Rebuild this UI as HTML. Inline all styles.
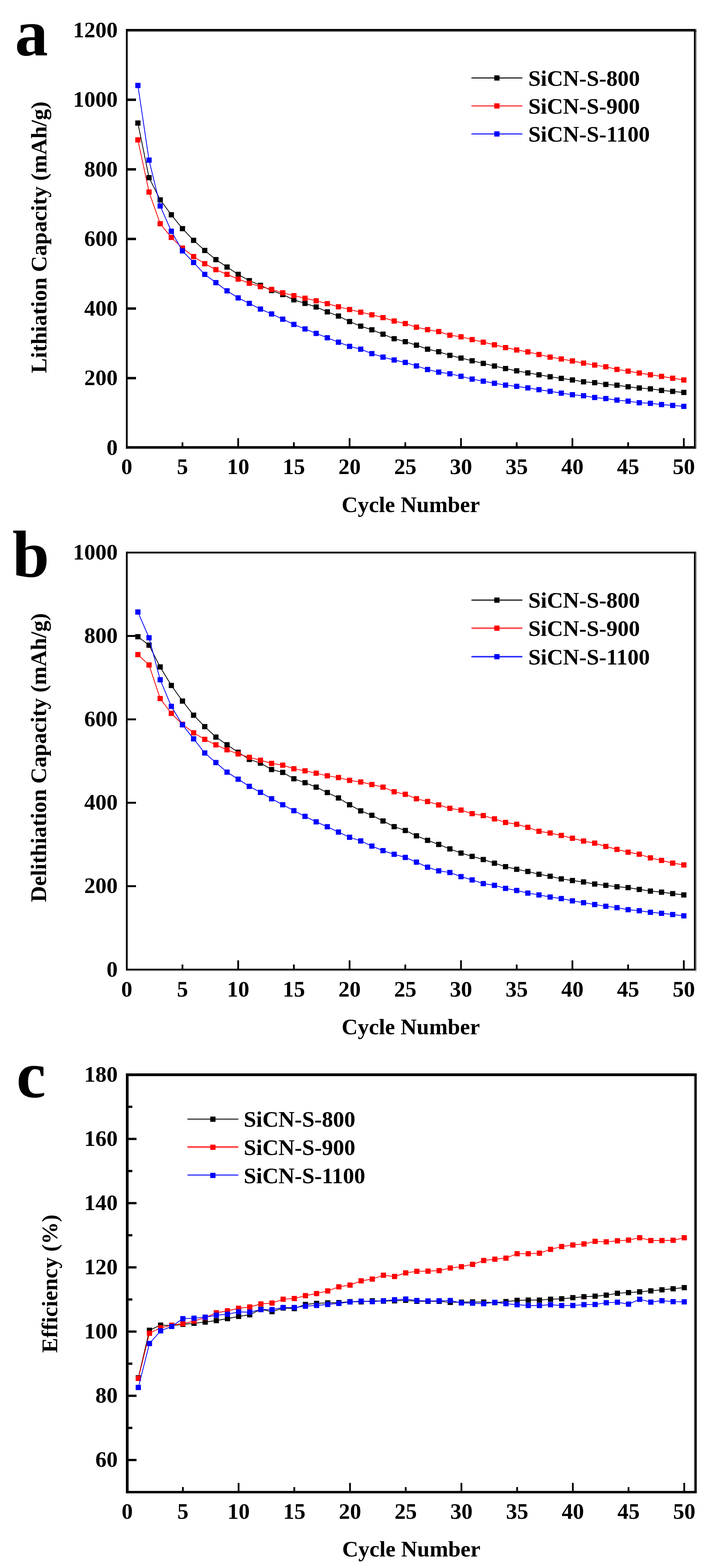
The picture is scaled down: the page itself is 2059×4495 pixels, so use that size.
<!DOCTYPE html>
<html><head><meta charset="utf-8"><title>SiCN-S cycling performance</title>
<style>
html,body{margin:0;padding:0;background:#fff;}
body{width:2059px;height:4495px;overflow:hidden;}
svg{display:block;}
svg text{font-family:'Liberation Serif', 'Times New Roman', serif;font-weight:bold;font-size:64px;fill:#000;}
</style></head><body>
<svg width="2059" height="4495" viewBox="0 0 2059 4495">
<rect x="0" y="0" width="2059" height="4495" fill="#fff"/>
<rect x="366" y="88" width="3" height="1191" fill="#e4e4e4"/>
<rect x="1994.6" y="83" width="3.4" height="1203.3" fill="#999999"/>
<rect x="361" y="88" width="1637" height="3" fill="#505050"/>
<rect x="361" y="83" width="1633.6" height="5" fill="#000"/>
<rect x="361" y="1279" width="1633.6" height="7.3" fill="#000"/>
<rect x="361" y="83" width="5" height="1203.3" fill="#000"/>
<rect x="1990" y="83" width="4.6" height="1203.3" fill="#000"/>
<text x="363.5" y="1359" text-anchor="middle">0</text>
<rect x="520.75" y="1268" width="5" height="12" fill="#000"/>
<text x="523.25" y="1359" text-anchor="middle">5</text>
<rect x="680.5" y="1256" width="5" height="24" fill="#000"/>
<text x="683" y="1359" text-anchor="middle">10</text>
<rect x="840.25" y="1268" width="5" height="12" fill="#000"/>
<text x="842.75" y="1359" text-anchor="middle">15</text>
<rect x="1000" y="1256" width="5" height="24" fill="#000"/>
<text x="1002.5" y="1359" text-anchor="middle">20</text>
<rect x="1159.75" y="1268" width="5" height="12" fill="#000"/>
<text x="1162.25" y="1359" text-anchor="middle">25</text>
<rect x="1319.5" y="1256" width="5" height="24" fill="#000"/>
<text x="1322" y="1359" text-anchor="middle">30</text>
<rect x="1479.25" y="1268" width="5" height="12" fill="#000"/>
<text x="1481.75" y="1359" text-anchor="middle">35</text>
<rect x="1639" y="1256" width="5" height="24" fill="#000"/>
<text x="1641.5" y="1359" text-anchor="middle">40</text>
<rect x="1798.75" y="1268" width="5" height="12" fill="#000"/>
<text x="1801.25" y="1359" text-anchor="middle">45</text>
<rect x="1958.5" y="1256" width="5" height="24" fill="#000"/>
<text x="1961" y="1359" text-anchor="middle">50</text>
<text x="337.5" y="1303.5" text-anchor="end">0</text>
<rect x="365" y="1080.5" width="25" height="7" fill="#000"/>
<text x="337.5" y="1104" text-anchor="end">200</text>
<rect x="365" y="881" width="25" height="7" fill="#000"/>
<text x="337.5" y="904.5" text-anchor="end">400</text>
<rect x="365" y="681.5" width="25" height="7" fill="#000"/>
<text x="337.5" y="705" text-anchor="end">600</text>
<rect x="365" y="482" width="25" height="7" fill="#000"/>
<text x="337.5" y="505.5" text-anchor="end">800</text>
<rect x="365" y="282.5" width="25" height="7" fill="#000"/>
<text x="337.5" y="306" text-anchor="end">1000</text>
<text x="337.5" y="106.5" text-anchor="end">1200</text>
<text x="1178" y="1467.7" text-anchor="middle">Cycle Number</text>
<text transform="translate(132.6 1069.5) rotate(-90)" x="0" y="0">Lithiation Capacity (mAh/g)</text>
<text x="42.7" y="158.9" style="font-size:190px">a</text>
<polyline points="395.45,352.8 427.4,509.2 459.35,572.9 491.3,615.7 523.25,655.6 555.2,689 587.15,718 619.1,744.3 651.05,765.4 683,786.6 714.95,804.5 746.9,818 778.85,832.7 810.8,844.5 842.75,859.4 874.7,869.8 906.65,880.1 938.6,894.1 970.55,906 1002.5,921.7 1034.45,935.1 1066.4,945.4 1098.35,957.9 1130.3,970.9 1162.25,979.5 1194.2,989.6 1226.15,1000.9 1258.1,1008.3 1290.05,1018.7 1322,1026.4 1353.95,1034.3 1385.9,1041.7 1417.85,1049.2 1449.8,1056.6 1481.75,1063.1 1513.7,1069 1545.65,1074.4 1577.6,1080 1609.55,1084.8 1641.5,1089.2 1673.45,1094.5 1705.4,1096.9 1737.35,1102 1769.3,1104.3 1801.25,1108.8 1833.2,1112.3 1865.15,1114.7 1897.1,1119.2 1929.05,1122.1 1961,1125.1" fill="none" stroke="#000000" stroke-width="2.2" stroke-linejoin="miter"/>
<path d="M387.95 345.3h15v15h-15zM419.9 501.7h15v15h-15zM451.85 565.4h15v15h-15zM483.8 608.2h15v15h-15zM515.75 648.1h15v15h-15zM547.7 681.5h15v15h-15zM579.65 710.5h15v15h-15zM611.6 736.8h15v15h-15zM643.55 757.9h15v15h-15zM675.5 779.1h15v15h-15zM707.45 797h15v15h-15zM739.4 810.5h15v15h-15zM771.35 825.2h15v15h-15zM803.3 837h15v15h-15zM835.25 851.9h15v15h-15zM867.2 862.3h15v15h-15zM899.15 872.6h15v15h-15zM931.1 886.6h15v15h-15zM963.05 898.5h15v15h-15zM995 914.2h15v15h-15zM1026.95 927.6h15v15h-15zM1058.9 937.9h15v15h-15zM1090.85 950.4h15v15h-15zM1122.8 963.4h15v15h-15zM1154.75 972h15v15h-15zM1186.7 982.1h15v15h-15zM1218.65 993.4h15v15h-15zM1250.6 1000.8h15v15h-15zM1282.55 1011.2h15v15h-15zM1314.5 1018.9h15v15h-15zM1346.45 1026.8h15v15h-15zM1378.4 1034.2h15v15h-15zM1410.35 1041.7h15v15h-15zM1442.3 1049.1h15v15h-15zM1474.25 1055.6h15v15h-15zM1506.2 1061.5h15v15h-15zM1538.15 1066.9h15v15h-15zM1570.1 1072.5h15v15h-15zM1602.05 1077.3h15v15h-15zM1634 1081.7h15v15h-15zM1665.95 1087h15v15h-15zM1697.9 1089.4h15v15h-15zM1729.85 1094.5h15v15h-15zM1761.8 1096.8h15v15h-15zM1793.75 1101.3h15v15h-15zM1825.7 1104.8h15v15h-15zM1857.65 1107.2h15v15h-15zM1889.6 1111.7h15v15h-15zM1921.55 1114.6h15v15h-15zM1953.5 1117.6h15v15h-15z" fill="#000000"/>
<polyline points="395.45,401.1 427.4,550.6 459.35,641.2 491.3,680.5 523.25,711.2 555.2,735.6 587.15,755.9 619.1,773 651.05,786.6 683,800.1 714.95,811.9 746.9,821.7 778.85,829.7 810.8,839.5 842.75,847.5 874.7,854.9 906.65,862.3 938.6,870.4 970.55,879.5 1002.5,887.3 1034.45,895 1066.4,902.4 1098.35,910.4 1130.3,920.2 1162.25,927.6 1194.2,938 1226.15,945.1 1258.1,950.5 1290.05,960.9 1322,965.5 1353.95,973.5 1385.9,980.9 1417.85,988.4 1449.8,996.4 1481.75,1003.2 1513.7,1008.8 1545.65,1016.2 1577.6,1023.7 1609.55,1029 1641.5,1034.8 1673.45,1041.1 1705.4,1046.5 1737.35,1051.5 1769.3,1058.9 1801.25,1064 1833.2,1069.3 1865.15,1074.4 1897.1,1079.1 1929.05,1084.2 1961,1089.2" fill="none" stroke="#ff0000" stroke-width="2.2" stroke-linejoin="miter"/>
<path d="M387.95 393.6h15v15h-15zM419.9 543.1h15v15h-15zM451.85 633.7h15v15h-15zM483.8 673h15v15h-15zM515.75 703.7h15v15h-15zM547.7 728.1h15v15h-15zM579.65 748.4h15v15h-15zM611.6 765.5h15v15h-15zM643.55 779.1h15v15h-15zM675.5 792.6h15v15h-15zM707.45 804.4h15v15h-15zM739.4 814.2h15v15h-15zM771.35 822.2h15v15h-15zM803.3 832h15v15h-15zM835.25 840h15v15h-15zM867.2 847.4h15v15h-15zM899.15 854.8h15v15h-15zM931.1 862.9h15v15h-15zM963.05 872h15v15h-15zM995 879.8h15v15h-15zM1026.95 887.5h15v15h-15zM1058.9 894.9h15v15h-15zM1090.85 902.9h15v15h-15zM1122.8 912.7h15v15h-15zM1154.75 920.1h15v15h-15zM1186.7 930.5h15v15h-15zM1218.65 937.6h15v15h-15zM1250.6 943h15v15h-15zM1282.55 953.4h15v15h-15zM1314.5 958h15v15h-15zM1346.45 966h15v15h-15zM1378.4 973.4h15v15h-15zM1410.35 980.9h15v15h-15zM1442.3 988.9h15v15h-15zM1474.25 995.7h15v15h-15zM1506.2 1001.3h15v15h-15zM1538.15 1008.7h15v15h-15zM1570.1 1016.2h15v15h-15zM1602.05 1021.5h15v15h-15zM1634 1027.3h15v15h-15zM1665.95 1033.6h15v15h-15zM1697.9 1039h15v15h-15zM1729.85 1044h15v15h-15zM1761.8 1051.4h15v15h-15zM1793.75 1056.5h15v15h-15zM1825.7 1061.8h15v15h-15zM1857.65 1066.9h15v15h-15zM1889.6 1071.6h15v15h-15zM1921.55 1076.7h15v15h-15zM1953.5 1081.7h15v15h-15z" fill="#ff0000"/>
<polyline points="395.45,244.9 427.4,459 459.35,590.5 491.3,662.9 523.25,719.3 555.2,752.4 587.15,786.6 619.1,810.2 651.05,833.8 683,854 714.95,869.8 746.9,886.1 778.85,900 810.8,914.9 842.75,930 874.7,943 906.65,955.8 938.6,968.2 970.55,981 1002.5,992.9 1034.45,1000.9 1066.4,1013.7 1098.35,1023.8 1130.3,1032.1 1162.25,1038.9 1194.2,1049 1226.15,1059.3 1258.1,1066.8 1290.05,1071.5 1322,1078.7 1353.95,1086.8 1385.9,1092.8 1417.85,1098.7 1449.8,1104 1481.75,1107.6 1513.7,1112.1 1545.65,1117.1 1577.6,1121.8 1609.55,1126.9 1641.5,1131.5 1673.45,1134.6 1705.4,1139.6 1737.35,1142.6 1769.3,1147.1 1801.25,1150 1833.2,1154.5 1865.15,1156.2 1897.1,1159.8 1929.05,1162.2 1961,1164.9" fill="none" stroke="#0000ff" stroke-width="2.2" stroke-linejoin="miter"/>
<path d="M387.95 237.4h15v15h-15zM419.9 451.5h15v15h-15zM451.85 583h15v15h-15zM483.8 655.4h15v15h-15zM515.75 711.8h15v15h-15zM547.7 744.9h15v15h-15zM579.65 779.1h15v15h-15zM611.6 802.7h15v15h-15zM643.55 826.3h15v15h-15zM675.5 846.5h15v15h-15zM707.45 862.3h15v15h-15zM739.4 878.6h15v15h-15zM771.35 892.5h15v15h-15zM803.3 907.4h15v15h-15zM835.25 922.5h15v15h-15zM867.2 935.5h15v15h-15zM899.15 948.3h15v15h-15zM931.1 960.7h15v15h-15zM963.05 973.5h15v15h-15zM995 985.4h15v15h-15zM1026.95 993.4h15v15h-15zM1058.9 1006.2h15v15h-15zM1090.85 1016.3h15v15h-15zM1122.8 1024.6h15v15h-15zM1154.75 1031.4h15v15h-15zM1186.7 1041.5h15v15h-15zM1218.65 1051.8h15v15h-15zM1250.6 1059.3h15v15h-15zM1282.55 1064h15v15h-15zM1314.5 1071.2h15v15h-15zM1346.45 1079.3h15v15h-15zM1378.4 1085.3h15v15h-15zM1410.35 1091.2h15v15h-15zM1442.3 1096.5h15v15h-15zM1474.25 1100.1h15v15h-15zM1506.2 1104.6h15v15h-15zM1538.15 1109.6h15v15h-15zM1570.1 1114.3h15v15h-15zM1602.05 1119.4h15v15h-15zM1634 1124h15v15h-15zM1665.95 1127.1h15v15h-15zM1697.9 1132.1h15v15h-15zM1729.85 1135.1h15v15h-15zM1761.8 1139.6h15v15h-15zM1793.75 1142.5h15v15h-15zM1825.7 1147h15v15h-15zM1857.65 1148.7h15v15h-15zM1889.6 1152.3h15v15h-15zM1921.55 1154.7h15v15h-15zM1953.5 1157.4h15v15h-15z" fill="#0000ff"/>
<rect x="1352" y="222.1" width="146" height="2.8" fill="#000"/>
<rect x="1417.5" y="216" width="15" height="15" fill="#000000"/>
<text x="1515" y="245.5">SiCN-S-800</text>
<rect x="1352" y="302.4" width="146" height="2.6" fill="#ff0000"/>
<rect x="1417.5" y="296.2" width="15" height="15" fill="#ff0000"/>
<text x="1515" y="325.7">SiCN-S-900</text>
<rect x="1352" y="382.6" width="146" height="2.8" fill="#0000ff"/>
<rect x="1417.5" y="376.5" width="15" height="15" fill="#0000ff"/>
<text x="1515" y="406">SiCN-S-1100</text>
<rect x="366" y="1586.6" width="3" height="1190.4" fill="#e4e4e4"/>
<rect x="1994.6" y="1581.5" width="3.4" height="1203.3" fill="#999999"/>
<rect x="361" y="2781.9" width="1637" height="2.9" fill="#d0d0d0"/>
<rect x="361" y="1581.5" width="1633.6" height="5.1" fill="#000"/>
<rect x="361" y="2777" width="1633.6" height="4.9" fill="#000"/>
<rect x="361" y="1581.5" width="5" height="1200.4" fill="#000"/>
<rect x="1990" y="1581.5" width="4.6" height="1200.4" fill="#000"/>
<text x="363.5" y="2857" text-anchor="middle">0</text>
<rect x="520.75" y="2765" width="5" height="13" fill="#000"/>
<text x="523.25" y="2857" text-anchor="middle">5</text>
<rect x="680.5" y="2753" width="5" height="25" fill="#000"/>
<text x="683" y="2857" text-anchor="middle">10</text>
<rect x="840.25" y="2765" width="5" height="13" fill="#000"/>
<text x="842.75" y="2857" text-anchor="middle">15</text>
<rect x="1000" y="2753" width="5" height="25" fill="#000"/>
<text x="1002.5" y="2857" text-anchor="middle">20</text>
<rect x="1159.75" y="2765" width="5" height="13" fill="#000"/>
<text x="1162.25" y="2857" text-anchor="middle">25</text>
<rect x="1319.5" y="2753" width="5" height="25" fill="#000"/>
<text x="1322" y="2857" text-anchor="middle">30</text>
<rect x="1479.25" y="2765" width="5" height="13" fill="#000"/>
<text x="1481.75" y="2857" text-anchor="middle">35</text>
<rect x="1639" y="2753" width="5" height="25" fill="#000"/>
<text x="1641.5" y="2857" text-anchor="middle">40</text>
<rect x="1798.75" y="2765" width="5" height="13" fill="#000"/>
<text x="1801.25" y="2857" text-anchor="middle">45</text>
<rect x="1958.5" y="2753" width="5" height="25" fill="#000"/>
<text x="1961" y="2857" text-anchor="middle">50</text>
<text x="337.5" y="2799.5" text-anchor="end">0</text>
<rect x="365" y="2537.65" width="25" height="5.5" fill="#000"/>
<text x="337.5" y="2560.4" text-anchor="end">200</text>
<rect x="365" y="2298.55" width="25" height="5.5" fill="#000"/>
<text x="337.5" y="2321.3" text-anchor="end">400</text>
<rect x="365" y="2059.45" width="25" height="5.5" fill="#000"/>
<text x="337.5" y="2082.2" text-anchor="end">600</text>
<rect x="365" y="1820.35" width="25" height="5.5" fill="#000"/>
<text x="337.5" y="1843.1" text-anchor="end">800</text>
<text x="337.5" y="1604" text-anchor="end">1000</text>
<text x="1178" y="2964.7" text-anchor="middle">Cycle Number</text>
<text transform="translate(131.7 2586) rotate(-90)" x="0" y="0">Delithiation Capacity (mAh/g)</text>
<text x="35.5" y="1653.5" style="font-size:190px">b</text>
<polyline points="395.45,1825.2 427.4,1849.6 459.35,1912.1 491.3,1964.9 523.25,2009.7 555.2,2050.3 587.15,2083 619.1,2112.9 651.05,2135.1 683,2156.4 714.95,2177.1 746.9,2187.5 778.85,2205.9 810.8,2214.2 842.75,2232.6 874.7,2243.8 906.65,2256.6 938.6,2272 970.55,2287.4 1002.5,2307 1034.45,2324.4 1066.4,2337.2 1098.35,2353.5 1130.3,2369.8 1162.25,2380.8 1194.2,2395.9 1226.15,2409 1258.1,2420.8 1290.05,2433.6 1322,2445.5 1353.95,2454.9 1385.9,2464 1417.85,2474.4 1449.8,2484.5 1481.75,2491.9 1513.7,2498.2 1545.65,2506.2 1577.6,2512.1 1609.55,2519.5 1641.5,2524.3 1673.45,2528.3 1705.4,2534.3 1737.35,2538.1 1769.3,2542 1801.25,2544.6 1833.2,2549.7 1865.15,2554.4 1897.1,2557.4 1929.05,2561.8 1961,2565.4" fill="none" stroke="#000000" stroke-width="2.2" stroke-linejoin="miter"/>
<path d="M387.95 1817.7h15v15h-15zM419.9 1842.1h15v15h-15zM451.85 1904.6h15v15h-15zM483.8 1957.4h15v15h-15zM515.75 2002.2h15v15h-15zM547.7 2042.8h15v15h-15zM579.65 2075.5h15v15h-15zM611.6 2105.4h15v15h-15zM643.55 2127.6h15v15h-15zM675.5 2148.9h15v15h-15zM707.45 2169.6h15v15h-15zM739.4 2180h15v15h-15zM771.35 2198.4h15v15h-15zM803.3 2206.7h15v15h-15zM835.25 2225.1h15v15h-15zM867.2 2236.3h15v15h-15zM899.15 2249.1h15v15h-15zM931.1 2264.5h15v15h-15zM963.05 2279.9h15v15h-15zM995 2299.5h15v15h-15zM1026.95 2316.9h15v15h-15zM1058.9 2329.7h15v15h-15zM1090.85 2346h15v15h-15zM1122.8 2362.3h15v15h-15zM1154.75 2373.3h15v15h-15zM1186.7 2388.4h15v15h-15zM1218.65 2401.5h15v15h-15zM1250.6 2413.3h15v15h-15zM1282.55 2426.1h15v15h-15zM1314.5 2438h15v15h-15zM1346.45 2447.4h15v15h-15zM1378.4 2456.5h15v15h-15zM1410.35 2466.9h15v15h-15zM1442.3 2477h15v15h-15zM1474.25 2484.4h15v15h-15zM1506.2 2490.7h15v15h-15zM1538.15 2498.7h15v15h-15zM1570.1 2504.6h15v15h-15zM1602.05 2512h15v15h-15zM1634 2516.8h15v15h-15zM1665.95 2520.8h15v15h-15zM1697.9 2526.8h15v15h-15zM1729.85 2530.6h15v15h-15zM1761.8 2534.5h15v15h-15zM1793.75 2537.1h15v15h-15zM1825.7 2542.2h15v15h-15zM1857.65 2546.9h15v15h-15zM1889.6 2549.9h15v15h-15zM1921.55 2554.3h15v15h-15zM1953.5 2557.9h15v15h-15z" fill="#000000"/>
<polyline points="395.45,1876.4 427.4,1906.3 459.35,2002.4 491.3,2045.1 523.25,2076.3 555.2,2100.7 587.15,2119.6 619.1,2135.2 651.05,2149.5 683,2161.2 714.95,2171.1 746.9,2179.5 778.85,2188.4 810.8,2193.4 842.75,2203.8 874.7,2209.7 906.65,2216.5 938.6,2224 970.55,2229 1002.5,2237.1 1034.45,2241.7 1066.4,2249.1 1098.35,2256.5 1130.3,2269.8 1162.25,2277 1194.2,2289.7 1226.15,2297.7 1258.1,2307.5 1290.05,2317.3 1322,2322.2 1353.95,2332.6 1385.9,2338 1417.85,2347.5 1449.8,2357.8 1481.75,2362.9 1513.7,2371.8 1545.65,2383.1 1577.6,2388.1 1609.55,2394.9 1641.5,2403.1 1673.45,2411.1 1705.4,2417.1 1737.35,2426.6 1769.3,2434.9 1801.25,2442.9 1833.2,2448.8 1865.15,2459.2 1897.1,2466.6 1929.05,2474.3 1961,2479.4" fill="none" stroke="#ff0000" stroke-width="2.2" stroke-linejoin="miter"/>
<path d="M387.95 1868.9h15v15h-15zM419.9 1898.8h15v15h-15zM451.85 1994.9h15v15h-15zM483.8 2037.6h15v15h-15zM515.75 2068.8h15v15h-15zM547.7 2093.2h15v15h-15zM579.65 2112.1h15v15h-15zM611.6 2127.7h15v15h-15zM643.55 2142h15v15h-15zM675.5 2153.7h15v15h-15zM707.45 2163.6h15v15h-15zM739.4 2172h15v15h-15zM771.35 2180.9h15v15h-15zM803.3 2185.9h15v15h-15zM835.25 2196.3h15v15h-15zM867.2 2202.2h15v15h-15zM899.15 2209h15v15h-15zM931.1 2216.5h15v15h-15zM963.05 2221.5h15v15h-15zM995 2229.6h15v15h-15zM1026.95 2234.2h15v15h-15zM1058.9 2241.6h15v15h-15zM1090.85 2249h15v15h-15zM1122.8 2262.3h15v15h-15zM1154.75 2269.5h15v15h-15zM1186.7 2282.2h15v15h-15zM1218.65 2290.2h15v15h-15zM1250.6 2300h15v15h-15zM1282.55 2309.8h15v15h-15zM1314.5 2314.7h15v15h-15zM1346.45 2325.1h15v15h-15zM1378.4 2330.5h15v15h-15zM1410.35 2340h15v15h-15zM1442.3 2350.3h15v15h-15zM1474.25 2355.4h15v15h-15zM1506.2 2364.3h15v15h-15zM1538.15 2375.6h15v15h-15zM1570.1 2380.6h15v15h-15zM1602.05 2387.4h15v15h-15zM1634 2395.6h15v15h-15zM1665.95 2403.6h15v15h-15zM1697.9 2409.6h15v15h-15zM1729.85 2419.1h15v15h-15zM1761.8 2427.4h15v15h-15zM1793.75 2435.4h15v15h-15zM1825.7 2441.3h15v15h-15zM1857.65 2451.7h15v15h-15zM1889.6 2459.1h15v15h-15zM1921.55 2466.8h15v15h-15zM1953.5 2471.9h15v15h-15z" fill="#ff0000"/>
<polyline points="395.45,1754.4 427.4,1828.2 459.35,1948.7 491.3,2025 523.25,2077.8 555.2,2118 587.15,2158.6 619.1,2186.1 651.05,2213.5 683,2233.8 714.95,2254.2 746.9,2271.4 778.85,2289.8 810.8,2307 842.75,2323.9 874.7,2340.2 906.65,2356 938.6,2369.9 970.55,2385.3 1002.5,2400.3 1034.45,2410.7 1066.4,2425.6 1098.35,2438.6 1130.3,2449 1162.25,2457.9 1194.2,2471.6 1226.15,2486.1 1258.1,2496.5 1290.05,2501.2 1322,2512.9 1353.95,2522.5 1385.9,2532.9 1417.85,2537.9 1449.8,2546.8 1481.75,2552.7 1513.7,2560.2 1545.65,2565.5 1577.6,2571.4 1609.55,2575.9 1641.5,2582.5 1673.45,2587.7 1705.4,2593 1737.35,2598 1769.3,2601.9 1801.25,2607.8 1833.2,2610.8 1865.15,2615.2 1897.1,2618.2 1929.05,2621.7 1961,2625.6" fill="none" stroke="#0000ff" stroke-width="2.2" stroke-linejoin="miter"/>
<path d="M387.95 1746.9h15v15h-15zM419.9 1820.7h15v15h-15zM451.85 1941.2h15v15h-15zM483.8 2017.5h15v15h-15zM515.75 2070.3h15v15h-15zM547.7 2110.5h15v15h-15zM579.65 2151.1h15v15h-15zM611.6 2178.6h15v15h-15zM643.55 2206h15v15h-15zM675.5 2226.3h15v15h-15zM707.45 2246.7h15v15h-15zM739.4 2263.9h15v15h-15zM771.35 2282.3h15v15h-15zM803.3 2299.5h15v15h-15zM835.25 2316.4h15v15h-15zM867.2 2332.7h15v15h-15zM899.15 2348.5h15v15h-15zM931.1 2362.4h15v15h-15zM963.05 2377.8h15v15h-15zM995 2392.8h15v15h-15zM1026.95 2403.2h15v15h-15zM1058.9 2418.1h15v15h-15zM1090.85 2431.1h15v15h-15zM1122.8 2441.5h15v15h-15zM1154.75 2450.4h15v15h-15zM1186.7 2464.1h15v15h-15zM1218.65 2478.6h15v15h-15zM1250.6 2489h15v15h-15zM1282.55 2493.7h15v15h-15zM1314.5 2505.4h15v15h-15zM1346.45 2515h15v15h-15zM1378.4 2525.4h15v15h-15zM1410.35 2530.4h15v15h-15zM1442.3 2539.3h15v15h-15zM1474.25 2545.2h15v15h-15zM1506.2 2552.7h15v15h-15zM1538.15 2558h15v15h-15zM1570.1 2563.9h15v15h-15zM1602.05 2568.4h15v15h-15zM1634 2575h15v15h-15zM1665.95 2580.2h15v15h-15zM1697.9 2585.5h15v15h-15zM1729.85 2590.5h15v15h-15zM1761.8 2594.4h15v15h-15zM1793.75 2600.3h15v15h-15zM1825.7 2603.3h15v15h-15zM1857.65 2607.7h15v15h-15zM1889.6 2610.7h15v15h-15zM1921.55 2614.2h15v15h-15zM1953.5 2618.1h15v15h-15z" fill="#0000ff"/>
<rect x="1352" y="1718.2" width="146" height="4.4" fill="#444444"/>
<rect x="1417.5" y="1712.9" width="15" height="15" fill="#000000"/>
<text x="1515" y="1742.4">SiCN-S-800</text>
<rect x="1352" y="1798.4" width="146" height="4.8" fill="#ff5050"/>
<rect x="1417.5" y="1793.3" width="15" height="15" fill="#ff0000"/>
<text x="1515" y="1822.8">SiCN-S-900</text>
<rect x="1352" y="1880.6" width="146" height="2.6" fill="#0000ff"/>
<rect x="1352" y="1883.2" width="146" height="2.2" fill="#7070ff"/>
<rect x="1417.5" y="1875" width="15" height="15" fill="#0000ff"/>
<text x="1515" y="1904.5">SiCN-S-1100</text>
<rect x="1989.5" y="3077" width="2.5" height="1204" fill="#999999"/>
<rect x="366" y="3081" width="3" height="1200" fill="#1c1c1c"/>
<rect x="361" y="3077" width="1637" height="8" fill="#000"/>
<rect x="361" y="4274" width="1637" height="7" fill="#000"/>
<rect x="361" y="3077" width="5" height="1204" fill="#000"/>
<rect x="1992" y="3077" width="6" height="1204" fill="#000"/>
<text x="364.7" y="4354" text-anchor="middle">0</text>
<rect x="521.95" y="4263" width="5" height="12" fill="#000"/>
<text x="524.45" y="4354" text-anchor="middle">5</text>
<rect x="681.7" y="4251" width="5" height="24" fill="#000"/>
<text x="684.2" y="4354" text-anchor="middle">10</text>
<rect x="841.45" y="4263" width="5" height="12" fill="#000"/>
<text x="843.95" y="4354" text-anchor="middle">15</text>
<rect x="1001.2" y="4251" width="5" height="24" fill="#000"/>
<text x="1003.7" y="4354" text-anchor="middle">20</text>
<rect x="1160.95" y="4263" width="5" height="12" fill="#000"/>
<text x="1163.45" y="4354" text-anchor="middle">25</text>
<rect x="1320.7" y="4251" width="5" height="24" fill="#000"/>
<text x="1323.2" y="4354" text-anchor="middle">30</text>
<rect x="1480.45" y="4263" width="5" height="12" fill="#000"/>
<text x="1482.95" y="4354" text-anchor="middle">35</text>
<rect x="1640.2" y="4251" width="5" height="24" fill="#000"/>
<text x="1642.7" y="4354" text-anchor="middle">40</text>
<rect x="1799.95" y="4263" width="5" height="12" fill="#000"/>
<text x="1802.45" y="4354" text-anchor="middle">45</text>
<rect x="1959.7" y="4251" width="5" height="24" fill="#000"/>
<text x="1962.2" y="4354" text-anchor="middle">50</text>
<rect x="367.5" y="4182.2" width="24" height="6.5" fill="#000"/>
<text x="337.5" y="4205.45" text-anchor="end">60</text>
<rect x="367.5" y="4090.15" width="12" height="6.5" fill="#000"/>
<rect x="367.5" y="3998.1" width="24" height="6.5" fill="#000"/>
<text x="337.5" y="4021.35" text-anchor="end">80</text>
<rect x="367.5" y="3906.05" width="12" height="6.5" fill="#000"/>
<rect x="367.5" y="3814" width="24" height="6.5" fill="#000"/>
<text x="337.5" y="3837.25" text-anchor="end">100</text>
<rect x="367.5" y="3721.95" width="12" height="6.5" fill="#000"/>
<rect x="367.5" y="3629.9" width="24" height="6.5" fill="#000"/>
<text x="337.5" y="3653.15" text-anchor="end">120</text>
<rect x="367.5" y="3537.85" width="12" height="6.5" fill="#000"/>
<rect x="367.5" y="3445.8" width="24" height="6.5" fill="#000"/>
<text x="337.5" y="3469.05" text-anchor="end">140</text>
<rect x="367.5" y="3353.75" width="12" height="6.5" fill="#000"/>
<rect x="367.5" y="3261.7" width="24" height="6.5" fill="#000"/>
<text x="337.5" y="3284.95" text-anchor="end">160</text>
<rect x="367.5" y="3169.65" width="12" height="6.5" fill="#000"/>
<text x="337.5" y="3100.85" text-anchor="end">180</text>
<text x="1179.5" y="4461.5" text-anchor="middle">Cycle Number</text>
<text transform="translate(163.6 3878) rotate(-90)" x="0" y="0">Efficiency (%)</text>
<text x="46.9" y="3145.2" style="font-size:190px">c</text>
<polyline points="396.65,3949.7 428.6,3813.5 460.55,3798.7 492.5,3800 524.45,3796.6 556.4,3793.5 588.35,3789.9 620.3,3785.7 652.25,3780.1 684.2,3773.8 716.15,3769 748.1,3753.5 780.05,3760.1 812,3749.8 843.95,3751.2 875.9,3739.4 907.85,3736.4 939.8,3734.9 971.75,3734.3 1003.7,3731.5 1035.65,3732 1067.6,3729 1099.55,3729.9 1131.5,3729 1163.45,3727.6 1195.4,3730.5 1227.35,3730.5 1259.3,3730.5 1291.25,3733.5 1323.2,3732.9 1355.15,3732.2 1387.1,3732.8 1419.05,3734.3 1451,3731.3 1482.95,3727.8 1514.9,3726.9 1546.85,3726.9 1578.8,3724.5 1610.75,3723.3 1642.7,3720.1 1674.65,3717.3 1706.6,3715.8 1738.55,3712.8 1770.5,3707.5 1802.45,3705.4 1834.4,3703.3 1866.35,3700.4 1898.3,3697.4 1930.25,3694.4 1962.2,3691.2" fill="none" stroke="#000000" stroke-width="2.2" stroke-linejoin="miter"/>
<path d="M389.15 3942.2h15v15h-15zM421.1 3806h15v15h-15zM453.05 3791.2h15v15h-15zM485 3792.5h15v15h-15zM516.95 3789.1h15v15h-15zM548.9 3786h15v15h-15zM580.85 3782.4h15v15h-15zM612.8 3778.2h15v15h-15zM644.75 3772.6h15v15h-15zM676.7 3766.3h15v15h-15zM708.65 3761.5h15v15h-15zM740.6 3746h15v15h-15zM772.55 3752.6h15v15h-15zM804.5 3742.3h15v15h-15zM836.45 3743.7h15v15h-15zM868.4 3731.9h15v15h-15zM900.35 3728.9h15v15h-15zM932.3 3727.4h15v15h-15zM964.25 3726.8h15v15h-15zM996.2 3724h15v15h-15zM1028.15 3724.5h15v15h-15zM1060.1 3721.5h15v15h-15zM1092.05 3722.4h15v15h-15zM1124 3721.5h15v15h-15zM1155.95 3720.1h15v15h-15zM1187.9 3723h15v15h-15zM1219.85 3723h15v15h-15zM1251.8 3723h15v15h-15zM1283.75 3726h15v15h-15zM1315.7 3725.4h15v15h-15zM1347.65 3724.7h15v15h-15zM1379.6 3725.3h15v15h-15zM1411.55 3726.8h15v15h-15zM1443.5 3723.8h15v15h-15zM1475.45 3720.3h15v15h-15zM1507.4 3719.4h15v15h-15zM1539.35 3719.4h15v15h-15zM1571.3 3717h15v15h-15zM1603.25 3715.8h15v15h-15zM1635.2 3712.6h15v15h-15zM1667.15 3709.8h15v15h-15zM1699.1 3708.3h15v15h-15zM1731.05 3705.3h15v15h-15zM1763 3700h15v15h-15zM1794.95 3697.9h15v15h-15zM1826.9 3695.8h15v15h-15zM1858.85 3692.9h15v15h-15zM1890.8 3689.9h15v15h-15zM1922.75 3686.9h15v15h-15zM1954.7 3683.7h15v15h-15z" fill="#000000"/>
<polyline points="396.65,3951.4 428.6,3822 460.55,3806.4 492.5,3799 524.45,3794.8 556.4,3787 588.35,3777.3 620.3,3763.3 652.25,3757.8 684.2,3750.6 716.15,3746.8 748.1,3737.9 780.05,3735.5 812,3724.5 843.95,3722.5 875.9,3714.2 907.85,3708.2 939.8,3700.8 971.75,3688.9 1003.7,3684 1035.65,3671.8 1067.6,3666.7 1099.55,3655.8 1131.5,3659.3 1163.45,3648.9 1195.4,3644.5 1227.35,3643.9 1259.3,3642.4 1291.25,3635 1323.2,3631.2 1355.15,3624.5 1387.1,3613.6 1419.05,3609.7 1451,3606.7 1482.95,3594 1514.9,3594 1546.85,3592.5 1578.8,3581.5 1610.75,3573.5 1642.7,3568.9 1674.65,3566 1706.6,3558.6 1738.55,3560 1770.5,3557.1 1802.45,3555 1834.4,3548.2 1866.35,3556.2 1898.3,3556.2 1930.25,3555.6 1962.2,3548.2" fill="none" stroke="#ff0000" stroke-width="2.2" stroke-linejoin="miter"/>
<path d="M389.15 3943.9h15v15h-15zM421.1 3814.5h15v15h-15zM453.05 3798.9h15v15h-15zM485 3791.5h15v15h-15zM516.95 3787.3h15v15h-15zM548.9 3779.5h15v15h-15zM580.85 3769.8h15v15h-15zM612.8 3755.8h15v15h-15zM644.75 3750.3h15v15h-15zM676.7 3743.1h15v15h-15zM708.65 3739.3h15v15h-15zM740.6 3730.4h15v15h-15zM772.55 3728h15v15h-15zM804.5 3717h15v15h-15zM836.45 3715h15v15h-15zM868.4 3706.7h15v15h-15zM900.35 3700.7h15v15h-15zM932.3 3693.3h15v15h-15zM964.25 3681.4h15v15h-15zM996.2 3676.5h15v15h-15zM1028.15 3664.3h15v15h-15zM1060.1 3659.2h15v15h-15zM1092.05 3648.3h15v15h-15zM1124 3651.8h15v15h-15zM1155.95 3641.4h15v15h-15zM1187.9 3637h15v15h-15zM1219.85 3636.4h15v15h-15zM1251.8 3634.9h15v15h-15zM1283.75 3627.5h15v15h-15zM1315.7 3623.7h15v15h-15zM1347.65 3617h15v15h-15zM1379.6 3606.1h15v15h-15zM1411.55 3602.2h15v15h-15zM1443.5 3599.2h15v15h-15zM1475.45 3586.5h15v15h-15zM1507.4 3586.5h15v15h-15zM1539.35 3585h15v15h-15zM1571.3 3574h15v15h-15zM1603.25 3566h15v15h-15zM1635.2 3561.4h15v15h-15zM1667.15 3558.5h15v15h-15zM1699.1 3551.1h15v15h-15zM1731.05 3552.5h15v15h-15zM1763 3549.6h15v15h-15zM1794.95 3547.5h15v15h-15zM1826.9 3540.7h15v15h-15zM1858.85 3548.7h15v15h-15zM1890.8 3548.7h15v15h-15zM1922.75 3548.1h15v15h-15zM1954.7 3540.7h15v15h-15z" fill="#ff0000"/>
<polyline points="396.65,3977.5 428.6,3851.5 460.55,3815.1 492.5,3802.5 524.45,3780.2 556.4,3779 588.35,3775.9 620.3,3770.3 652.25,3767.5 684.2,3760.8 716.15,3761.6 748.1,3754.2 780.05,3754.2 812,3748.3 843.95,3748.3 875.9,3744.4 907.85,3742.3 939.8,3739.4 971.75,3736.4 1003.7,3732.3 1035.65,3729.9 1067.6,3731.4 1099.55,3729 1131.5,3726.1 1163.45,3724 1195.4,3728.2 1227.35,3729.6 1259.3,3729 1291.25,3728.2 1323.2,3735.1 1355.15,3735.8 1387.1,3737.3 1419.05,3733.4 1451,3737.3 1482.95,3740.2 1514.9,3742.6 1546.85,3742.6 1578.8,3740.2 1610.75,3742.6 1642.7,3742.5 1674.65,3740.1 1706.6,3739.5 1738.55,3734.5 1770.5,3733 1802.45,3738.6 1834.4,3724.7 1866.35,3732.7 1898.3,3728.7 1930.25,3731.5 1962.2,3732.1" fill="none" stroke="#0000ff" stroke-width="2.2" stroke-linejoin="miter"/>
<path d="M389.15 3970h15v15h-15zM421.1 3844h15v15h-15zM453.05 3807.6h15v15h-15zM485 3795h15v15h-15zM516.95 3772.7h15v15h-15zM548.9 3771.5h15v15h-15zM580.85 3768.4h15v15h-15zM612.8 3762.8h15v15h-15zM644.75 3760h15v15h-15zM676.7 3753.3h15v15h-15zM708.65 3754.1h15v15h-15zM740.6 3746.7h15v15h-15zM772.55 3746.7h15v15h-15zM804.5 3740.8h15v15h-15zM836.45 3740.8h15v15h-15zM868.4 3736.9h15v15h-15zM900.35 3734.8h15v15h-15zM932.3 3731.9h15v15h-15zM964.25 3728.9h15v15h-15zM996.2 3724.8h15v15h-15zM1028.15 3722.4h15v15h-15zM1060.1 3723.9h15v15h-15zM1092.05 3721.5h15v15h-15zM1124 3718.6h15v15h-15zM1155.95 3716.5h15v15h-15zM1187.9 3720.7h15v15h-15zM1219.85 3722.1h15v15h-15zM1251.8 3721.5h15v15h-15zM1283.75 3720.7h15v15h-15zM1315.7 3727.6h15v15h-15zM1347.65 3728.3h15v15h-15zM1379.6 3729.8h15v15h-15zM1411.55 3725.9h15v15h-15zM1443.5 3729.8h15v15h-15zM1475.45 3732.7h15v15h-15zM1507.4 3735.1h15v15h-15zM1539.35 3735.1h15v15h-15zM1571.3 3732.7h15v15h-15zM1603.25 3735.1h15v15h-15zM1635.2 3735h15v15h-15zM1667.15 3732.6h15v15h-15zM1699.1 3732h15v15h-15zM1731.05 3727h15v15h-15zM1763 3725.5h15v15h-15zM1794.95 3731.1h15v15h-15zM1826.9 3717.2h15v15h-15zM1858.85 3725.2h15v15h-15zM1890.8 3721.2h15v15h-15zM1922.75 3724h15v15h-15zM1954.7 3724.6h15v15h-15z" fill="#0000ff"/>
<rect x="537.5" y="3206.2" width="146" height="4.3" fill="#5a5a5a"/>
<rect x="603" y="3200.9" width="15" height="15" fill="#000000"/>
<text x="699" y="3230.4">SiCN-S-800</text>
<rect x="537.5" y="3286.1" width="146" height="2.7" fill="#ff1010"/>
<rect x="537.5" y="3288.8" width="146" height="2.5" fill="#ff8080"/>
<rect x="603" y="3281.4" width="15" height="15" fill="#ff0000"/>
<text x="699" y="3310.9">SiCN-S-900</text>
<rect x="537.5" y="3367.1" width="146" height="2.5" fill="#0000ff"/>
<rect x="537.5" y="3369.6" width="146" height="2.5" fill="#c0c0ff"/>
<rect x="603" y="3362.1" width="15" height="15" fill="#0000ff"/>
<text x="699" y="3391.6">SiCN-S-1100</text>
</svg>
</body></html>
